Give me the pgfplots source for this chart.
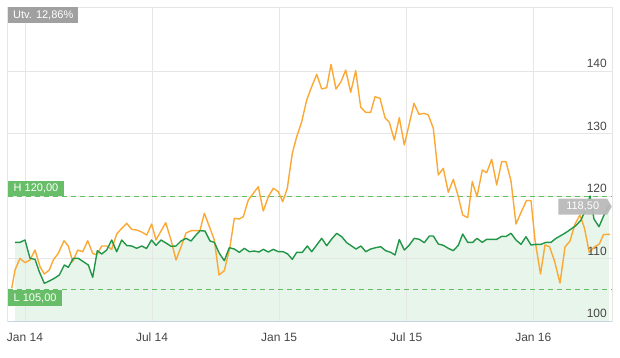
\documentclass[border=0pt]{standalone}
\usepackage{fontspec}
\setmainfont{Liberation Sans}
\usepackage{pgfplots}
\usepackage{pgfplotstable}
\pgfplotsset{compat=1.18}
\usetikzlibrary{shapes.symbols}
\definecolor{orangeL}{RGB}{251,168,52}
\definecolor{greenL}{RGB}{33,150,70}
\definecolor{greenFill}{RGB}{232,245,234}
\definecolor{greenDash}{RGB}{95,190,95}
\definecolor{greenBox}{RGB}{104,190,104}
\definecolor{gridC}{RGB}{230,230,230}
\definecolor{tickC}{RGB}{70,70,70}
\definecolor{boxGray}{RGB}{160,160,160}
\definecolor{lastGray}{RGB}{185,185,185}
\definecolor{baseC}{RGB}{200,212,230}
\tikzset{ylab/.style={anchor=south east, inner sep=0pt, xshift=-5pt, yshift=3pt, font=\fontsize{12}{14}\selectfont, text=tickC}}

\pgfplotstableread{
x y
-0.628 105.23
-0.472 108.16
-0.236 110.03
0.000 109.33
0.236 109.76
0.472 111.36
0.708 108.69
0.911 107.52
1.147 108.16
1.336 109.76
1.572 110.83
1.841 112.85
2.044 112.00
2.252 109.49
2.488 111.36
2.724 111.09
2.960 112.85
3.196 110.83
3.385 110.56
3.621 112.00
3.857 112.00
4.093 111.47
4.329 113.92
4.566 114.83
4.802 115.63
5.038 114.67
5.274 114.56
5.510 114.24
5.746 113.76
5.982 115.52
6.185 112.96
6.421 114.40
6.643 115.73
6.893 112.96
7.129 109.76
7.365 111.84
7.602 114.08
7.838 114.45
8.074 114.45
8.263 114.48
8.466 117.23
8.735 114.83
8.938 112.96
9.160 107.36
9.410 108.05
9.679 111.89
9.882 116.43
10.118 116.32
10.307 116.69
10.543 119.36
10.779 120.43
11.015 121.49
11.251 117.60
11.487 119.89
11.723 121.23
11.959 120.69
12.167 119.09
12.384 121.23
12.620 126.83
12.828 129.49
13.064 131.89
13.300 135.36
13.536 137.49
13.772 139.47
14.008 137.12
14.245 137.33
14.448 141.07
14.684 137.12
14.920 138.29
15.142 140.16
15.378 136.59
15.614 140.05
15.850 134.19
16.086 133.39
16.322 133.39
16.525 135.89
16.761 135.63
16.997 132.53
17.200 131.79
17.436 128.96
17.672 132.53
17.908 128.16
18.130 131.36
18.366 134.83
18.602 133.07
18.839 133.23
19.042 132.96
19.278 130.83
19.514 123.36
19.750 124.43
19.986 120.59
20.222 122.67
20.458 119.89
20.666 116.96
20.902 116.53
21.119 122.29
21.341 119.89
21.591 124.16
21.799 123.73
22.035 125.87
22.271 121.76
22.507 125.49
22.710 125.49
22.946 122.40
23.182 115.52
23.418 117.36
23.678 119.28
23.890 119.28
24.079 112.96
24.339 107.52
24.551 112.16
24.764 111.89
25.000 109.60
25.260 106.08
25.496 111.84
25.732 112.80
25.968 115.52
26.204 116.96
26.416 114.83
26.643 110.96
26.879 111.84
27.115 112.32
27.313 113.84
27.620 113.87
}\orangedata

\pgfplotstableread{
x y
-0.472 112.59
-0.236 112.59
0.000 112.96
0.236 110.03
0.472 109.87
0.675 107.89
0.911 106.03
1.147 106.40
1.383 106.83
1.619 107.36
1.856 108.96
2.044 108.59
2.280 110.03
2.517 110.03
2.753 109.49
2.989 108.96
3.196 106.99
3.414 111.25
3.621 110.72
3.857 111.36
4.093 112.96
4.329 111.09
4.566 112.96
4.802 112.08
5.038 112.00
5.274 111.63
5.510 112.00
5.737 111.60
5.973 112.96
6.185 112.11
6.421 112.96
6.657 112.48
6.893 111.95
7.129 112.00
7.365 112.80
7.602 113.23
7.838 112.80
8.074 113.76
8.263 114.45
8.499 114.40
8.735 112.80
8.938 112.59
9.174 110.83
9.410 109.65
9.646 111.73
9.882 111.52
10.118 110.99
10.354 111.63
10.590 111.09
10.826 111.20
11.048 111.04
11.251 111.47
11.487 111.04
11.723 111.47
11.959 111.09
12.195 111.09
12.403 110.72
12.620 109.87
12.828 110.99
13.093 110.99
13.329 112.00
13.536 111.09
13.772 112.16
14.008 113.23
14.245 112.05
14.481 113.12
14.717 114.03
14.953 113.49
15.189 112.53
15.425 112.00
15.628 111.52
15.864 112.00
16.086 111.09
16.322 111.52
16.558 111.73
16.794 111.89
17.030 111.25
17.266 110.99
17.469 110.56
17.672 113.04
17.908 111.36
18.144 112.16
18.380 113.23
18.616 113.07
18.853 112.53
19.089 113.60
19.278 113.60
19.514 112.32
19.750 112.11
19.986 111.63
20.222 111.25
20.458 112.11
20.666 113.92
20.902 112.59
21.138 112.59
21.341 113.23
21.591 112.59
21.799 113.07
22.035 113.07
22.271 113.07
22.507 113.55
22.710 113.52
22.946 114.03
23.182 112.96
23.418 112.27
23.654 113.49
23.890 112.16
24.126 112.27
24.363 112.27
24.599 112.59
24.835 112.59
25.071 113.23
25.307 113.68
25.543 114.16
25.779 114.72
26.015 115.28
26.251 116.16
26.440 117.60
26.676 120.00
26.865 116.32
27.101 115.09
27.337 116.96
27.573 118.50
}\greendata

\begin{document}
\begin{tikzpicture}
\begin{axis}[
  at={(0,0)}, anchor=south west,
  scale only axis, width=604pt, height=314pt,
  xmin=-0.803, xmax=27.715, ymin=100, ymax=150.24,
  axis line style={draw=gridC, line width=1pt},
  grid=major, grid style={draw=gridC, line width=1pt},
  major tick length=0pt,
  xtick={0,6,12,18,24},
  xticklabels={Jan 14,Jul 14,Jan 15,Jul 15,Jan 16},
  ytick={100,110,120,130,140},
  yticklabels={},
  /pgf/number format/assume math mode=true,
  ticklabel style={font=\fontsize{12}{14}\selectfont, text=tickC},
  xticklabel style={anchor=north, inner sep=0pt, yshift=-12pt},
]
\addplot[draw=none, fill=greenFill] table[x=x,y=y] {\greendata} \closedcycle;
\draw[gridC, line width=1pt] (axis cs:-0.803,110) -- (axis cs:27.715,110);
\draw[gridC, line width=1pt] (axis cs:0,100) -- (axis cs:0,150.24);
\draw[gridC, line width=1pt] (axis cs:6,100) -- (axis cs:6,150.24);
\draw[gridC, line width=1pt] (axis cs:12,100) -- (axis cs:12,150.24);
\draw[gridC, line width=1pt] (axis cs:18,100) -- (axis cs:18,150.24);
\draw[gridC, line width=1pt] (axis cs:24,100) -- (axis cs:24,150.24);
\draw[baseC, line width=1pt] (rel axis cs:0,0) -- (rel axis cs:1,0);
\draw[greenDash, line width=1pt, dash pattern=on 5pt off 4pt] (axis cs:-0.803,120) -- (axis cs:27.715,120);
\draw[greenDash, line width=1pt, dash pattern=on 5pt off 4pt] (axis cs:-0.803,105) -- (axis cs:27.715,105);
\addplot[orangeL, line width=1.4pt, line join=round] table[x=x,y=y] {\orangedata};
\addplot[greenL, line width=1.4pt, line join=round] table[x=x,y=y] {\greendata};
\node[ylab] at (axis cs:27.715,100) {100};
\node[ylab] at (axis cs:27.715,110) {110};
\node[ylab] at (axis cs:27.715,120) {120};
\node[ylab] at (axis cs:27.715,130) {130};
\node[ylab] at (axis cs:27.715,140) {140};
\node[fill=boxGray, text=white, anchor=north west, inner xsep=5pt, inner ysep=0pt, minimum height=16pt, font=\fontsize{11}{13}\selectfont] at (rel axis cs:0,1) {Utv. 12,86\%};
\node[fill=greenBox, text=white, anchor=south west, inner xsep=5.5pt, inner ysep=0pt, minimum height=15pt, font=\fontsize{11}{13}\selectfont] at (axis cs:-0.803,120) {H 120,00};
\node[fill=greenBox, text=white, anchor=north west, inner xsep=5.5pt, inner ysep=0pt, minimum height=16pt, font=\fontsize{11}{13}\selectfont] at (axis cs:-0.803,105) {L 105,00};
\node[signal, signal to=east, signal pointer angle=120, fill=lastGray, fill opacity=0.95, text opacity=1, text=white, anchor=east, inner xsep=8pt, inner ysep=0pt, minimum height=16pt, font=\fontsize{11}{13}\selectfont] at (axis cs:27.715,118.3) {118,50};
\end{axis}
\pgfresetboundingbox
\path (-8pt,-36pt) rectangle (612pt,321pt);
\end{tikzpicture}
\end{document}
